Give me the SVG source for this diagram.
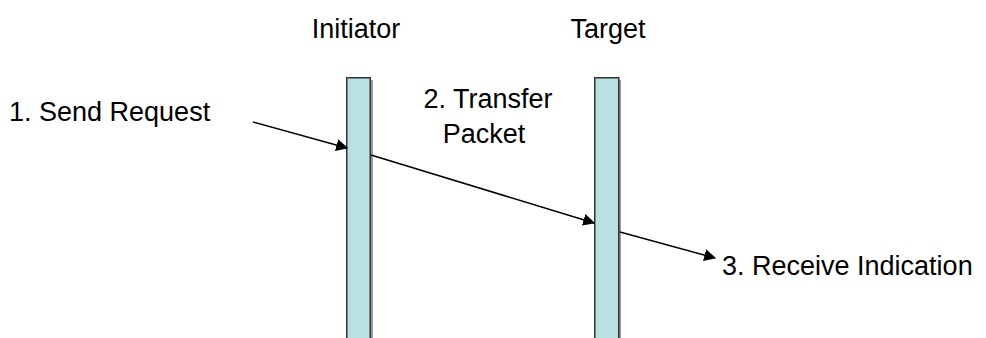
<svg xmlns="http://www.w3.org/2000/svg" width="986" height="338" viewBox="0 0 986 338">
  <defs>
    <style>
      .lbl { font-family: "Liberation Sans", Arial, sans-serif; font-size: 27px; fill: #000; }
      .bar { fill: #BAE0E3; stroke: #333; stroke-width: 1.5; }
      .shadow { fill: #9a9a9a; }
      .msg { stroke: #000; stroke-width: 1.5; fill: none; marker-end: url(#arrow); }
    </style>
    <marker id="arrow" viewBox="0 0 10 10" refX="9" refY="5" markerWidth="8" markerHeight="8" markerUnits="strokeWidth" orient="auto">
      <path d="M0,0 L10,5 L0,10 z" fill="#000"/>
    </marker>
  </defs>

  <g id="initiator">
    <rect class="shadow" x="349" y="80" width="24" height="270"/>
    <rect class="bar" x="346.75" y="77.75" width="23.5" height="270"/>
    <text class="lbl" x="356" y="38" text-anchor="middle">Initiator</text>
  </g>

  <g id="target">
    <rect class="shadow" x="597" y="80" width="24" height="270"/>
    <rect class="bar" x="594.75" y="77.75" width="24" height="270"/>
    <text class="lbl" x="608" y="38" text-anchor="middle">Target</text>
  </g>

  <g id="send-request">
    <text class="lbl" x="9" y="121">1. Send Request</text>
  </g>

  <g id="transfer-packet">
    <text class="lbl" x="488" y="108" text-anchor="middle">2. Transfer</text>
    <text class="lbl" x="484" y="143" text-anchor="middle">Packet</text>
  </g>

  <g id="receive-indication">
    <text class="lbl" x="722" y="275">3. Receive Indication</text>
  </g>

  <g id="connectors">
    <line class="msg" x1="253" y1="122" x2="347" y2="148"/>
    <line class="msg" x1="371" y1="155" x2="594" y2="223"/>
    <line class="msg" x1="620" y1="232" x2="715" y2="258"/>
  </g>
</svg>
